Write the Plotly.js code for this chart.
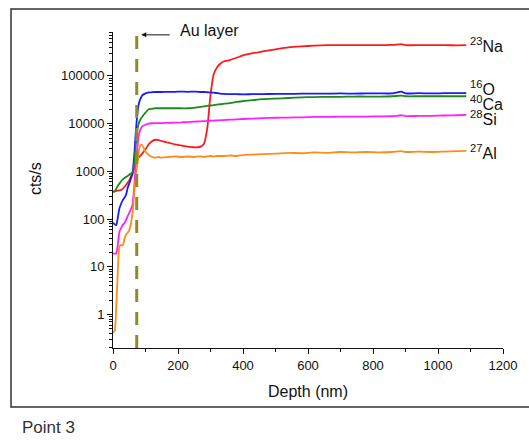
<!DOCTYPE html>
<html>
<head>
<meta charset="utf-8">
<script src="https://cdn.plot.ly/plotly-3.0.1.min.js"></script>
<style>html,body{margin:0;padding:0;background:#fff;}#chart{width:529px;height:440px;}</style>
</head>
<body>
<div id="chart"></div>
<script>
var depth = [0,5,10,15,20,25,30,35,40,45,50,55,60,65,70,75,80,85,90,100,110,120,130,140,150,170,190,210,230,250,260,270,280,290,300,310,320,330,340,360,380,400,430,460,500,540,580,620,660,700,740,780,820,860,887,900,940,980,1020,1060,1087];

var na = [380,380,390,395,400,410,430,470,520,580,650,780,900,1150,1400,1750,2000,2150,2350,2900,3700,4300,4600,4500,4300,4000,3700,3500,3300,3200,3200,3300,3800,8000,40000,110000,150000,180000,200000,215000,240000,270000,300000,325000,360000,395000,415000,430000,440000,442000,440000,443000,441000,445000,465000,442000,440000,443000,440000,438000,440000];

var o = [85,78,75,110,170,210,250,280,320,450,560,700,900,2000,6500,16000,27000,34000,39000,43000,45000,45500,46000,46000,46000,46500,46500,47000,46500,47000,46500,46000,46000,45500,45000,44500,43500,42500,42000,41500,41500,41000,41500,41500,42000,42000,42500,42500,42500,43000,42500,43000,43000,43000,47000,43000,43500,43000,43500,43500,43500];

var ca = [370,380,430,500,560,620,680,720,760,800,850,900,950,1300,3500,7500,10500,12500,14000,17000,20000,20500,21000,21000,21000,21000,21000,21000,21000,21500,22000,22500,23000,23500,24000,24500,25000,25500,26000,27000,28500,29500,31000,32500,33500,34500,35500,36000,36500,36500,37000,37000,37000,37500,38500,37500,37500,37500,37500,37500,37500];

var si = [19,19,19,30,55,65,75,82,95,115,135,160,200,450,1500,3200,6000,7800,8800,9500,10000,10200,10300,10300,10300,10400,10500,10600,10800,11000,11100,11200,11300,11400,11500,11600,11700,11800,11900,12100,12300,12500,12800,13000,13300,13400,13600,13800,13900,14000,14000,14100,14200,14300,15000,14400,14500,14600,14800,15000,15200];

var al = [0.42,0.45,1.5,8.7,27,29,28,38,47,52,58,80,130,330,750,1500,2800,3600,3500,2600,2200,2000,1950,2000,1950,2000,2050,2000,2050,2000,2050,2050,2000,2050,2100,2050,2100,2100,2100,2150,2100,2200,2250,2300,2350,2450,2400,2500,2450,2550,2500,2550,2500,2550,2650,2550,2600,2550,2600,2650,2700];

var seriesNames = ['<sup>23</sup>Na','<sup>16</sup>O','<sup>40</sup>Ca','<sup>28</sup>Si','<sup>27</sup>Al'];
var seriesColors = ['#ff1a1a','#1a1aff','#1a8a1a','#ff20ff','#ff8c1a'];
var seriesData = [na, o, ca, si, al];
var labelLogY = [5.65, 4.75, 4.435, 4.11, 3.41];

var yTickVals = [1,10,100,1000,10000,100000];
var yTickText = ['1','10','100','1000','10000','100000'];
var auLayerDepth = 73;

var traces = seriesData.map(function(d,i){
  return {x: depth, y: d, type:'scatter', mode:'lines', name: seriesNames[i],
    line:{color: seriesColors[i], width:1.8, shape:'spline', smoothing:0.6}, hoverinfo:'skip'};
});

var annotations = seriesNames.map(function(n,i){
  return {x: 1092, y: labelLogY[i], xref:'x', yref:'y', text: n, showarrow:false,
    xanchor:'left', yanchor:'middle', font:{family:'Liberation Sans, Arial, sans-serif', size:16, color:'#111'}};
});
annotations.push({x: 87, y: 5.86, xref:'x', yref:'y', text:'', showarrow:true, ax:30, ay:0,
  arrowhead:2, arrowsize:1, arrowwidth:1, arrowcolor:'#111'});
annotations.push({x: 199, y: 1.006, xref:'x', yref:'paper', text:'Au layer', showarrow:false,
  xanchor:'left', yanchor:'middle', font:{family:'Liberation Sans, Arial, sans-serif', size:16, color:'#111'}});
annotations.push({x: -0.197, y: 0.535, xref:'paper', yref:'paper', text:'cts/s', showarrow:false, textangle:-90,
  xanchor:'center', yanchor:'middle', font:{family:'Liberation Sans, Arial, sans-serif', size:16, color:'#111'}});
annotations.push({x: -0.238, y: -0.253, xref:'paper', yref:'paper', text:'Point 3', showarrow:false,
  xanchor:'left', yanchor:'middle', font:{family:'Liberation Sans Narrow, Liberation Sans, Arial, sans-serif', size:17, color:'#333'}});

var layout = {
  width:529, height:440,
  margin:{l:113, r:26, t:32, b:92},
  paper_bgcolor:'#fff', plot_bgcolor:'#fff',
  showlegend:false,
  font:{family:'Liberation Sans, Arial, sans-serif', size:13, color:'#111'},
  xaxis:{range:[0,1200], dtick:200, tick0:0, showgrid:false, zeroline:false, showline:true,
    linecolor:'#111', linewidth:1, ticks:'outside', ticklen:5, tickcolor:'#111',
    minor:{dtick:100, ticks:'outside', ticklen:3, tickcolor:'#111', showgrid:false},
    tickfont:{size:13, color:'#111'},
    title:{text:'Depth (nm)', font:{size:16, color:'#111'}, standoff:14}},
  yaxis:{type:'log', range:[-0.7, 5.92], tickmode:'array', tickvals:yTickVals, ticktext:yTickText,
    showgrid:false, zeroline:false, showline:true, linecolor:'#111', linewidth:1,
    ticks:'outside', ticklen:5, tickcolor:'#111', tickfont:{size:13, color:'#111'},
    minor:{dtick:'D1', ticks:'outside', ticklen:3, tickcolor:'#111', showgrid:false}},
  shapes:[
    {type:'line', xref:'x', yref:'paper', x0:auLayerDepth, x1:auLayerDepth, y0:0, y1:1.006,
      line:{color:'#8c8c28', width:3, dash:'13px,10px'}},
    {type:'rect', xref:'paper', yref:'paper', x0:-0.2615, x1:1.2, y0:-0.1867, y1:1.0728,
      line:{color:'#333', width:1.5}, fillcolor:'rgba(0,0,0,0)'}
  ],
  annotations: annotations
};

Plotly.newPlot('chart', traces, layout, {staticPlot:true, displayModeBar:false});
</script>
</body>
</html>
